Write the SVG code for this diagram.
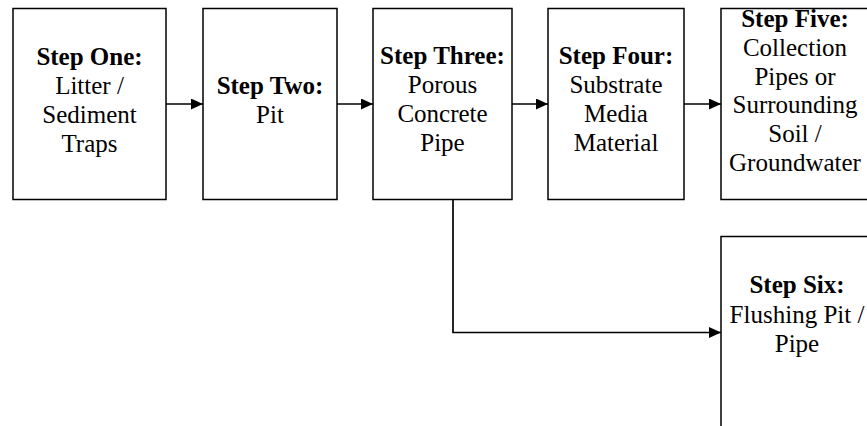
<svg xmlns="http://www.w3.org/2000/svg" width="867" height="426" viewBox="0 0 867 426">
<defs>
<marker id="arr" viewBox="0 0 10 10" refX="10" refY="5" markerWidth="12" markerHeight="11" markerUnits="userSpaceOnUse" orient="auto" preserveAspectRatio="none">
<path d="M0,0 L10,5 L0,10 Z" fill="#000"/>
</marker>
<style>
.box{fill:#fff;stroke:#000;stroke-width:1.5}
.t{font-family:"Liberation Serif","Times New Roman",serif;font-size:25px;fill:#000;text-anchor:middle}
.b{font-weight:bold}
.c{fill:none;stroke:#000;stroke-width:1.7}
</style>
</defs>
<rect width="867" height="426" fill="#fff"/>
<g id="connectors">
<line class="c" x1="166" y1="104" x2="203" y2="104" marker-end="url(#arr)"/>
<line class="c" x1="337" y1="104" x2="373" y2="104" marker-end="url(#arr)"/>
<line class="c" x1="512" y1="104" x2="548" y2="104" marker-end="url(#arr)"/>
<line class="c" x1="684" y1="104" x2="721" y2="104" marker-end="url(#arr)"/>
<polyline class="c" points="453,199 453,332.5 721,332.5" marker-end="url(#arr)"/>
</g>
<g id="step1">
<rect class="box" x="13" y="8.5" width="153" height="191"/>
<text class="t" x="89.5" y="65"><tspan class="b">Step One:</tspan><tspan x="89.5" dy="29">Litter /</tspan><tspan x="89.5" dy="29">Sediment</tspan><tspan x="89.5" dy="29">Traps</tspan></text>
</g>
<g id="step2">
<rect class="box" x="203" y="8.5" width="134" height="191"/>
<text class="t" x="270" y="94"><tspan class="b">Step Two:</tspan><tspan x="270" dy="29">Pit</tspan></text>
</g>
<g id="step3">
<rect class="box" x="373" y="8.5" width="139" height="191"/>
<text class="t" x="442.5" y="64"><tspan class="b">Step Three:</tspan><tspan x="442.5" dy="29">Porous</tspan><tspan x="442.5" dy="29">Concrete</tspan><tspan x="442.5" dy="29">Pipe</tspan></text>
</g>
<g id="step4">
<rect class="box" x="548" y="8.5" width="136" height="191"/>
<text class="t" x="616" y="64"><tspan class="b">Step Four:</tspan><tspan x="616" dy="29">Substrate</tspan><tspan x="616" dy="29">Media</tspan><tspan x="616" dy="29">Material</tspan></text>
</g>
<g id="step5">
<rect class="box" x="721" y="8.5" width="160" height="191"/>
<text class="t" x="795" y="27"><tspan class="b">Step Five:</tspan><tspan x="795" dy="28.8">Collection</tspan><tspan x="795" dy="28.8">Pipes or</tspan><tspan x="795" dy="28.8">Surrounding</tspan><tspan x="795" dy="28.8">Soil /</tspan><tspan x="795" dy="28.8">Groundwater</tspan></text>
</g>
<g id="step6">
<rect class="box" x="721" y="236.5" width="160" height="200"/>
<text class="t" x="797" y="293"><tspan class="b">Step Six:</tspan><tspan x="797" dy="29.5">Flushing Pit /</tspan><tspan x="797" dy="29.5">Pipe</tspan></text>
</g>
</svg>
